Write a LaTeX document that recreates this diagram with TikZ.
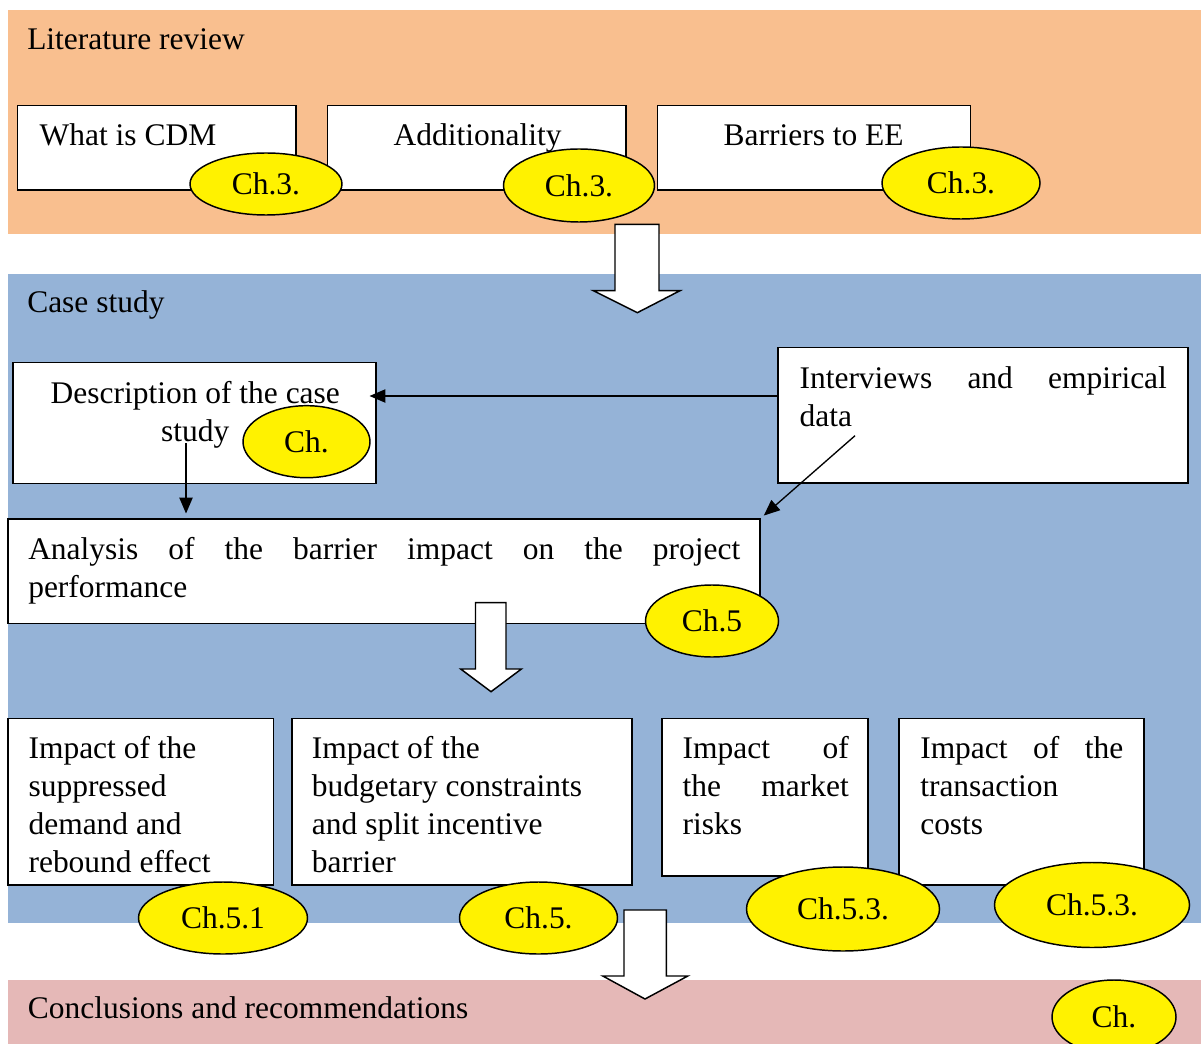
\documentclass[tikz,border=0pt]{standalone}
\usepackage{fontspec}
\setmainfont{Liberation Serif}
\usetikzlibrary{shapes.geometric,arrows.meta,fit}
\definecolor{litorange}{HTML}{F9BF8F}
\definecolor{caseblue}{HTML}{95B3D7}
\definecolor{conclpink}{HTML}{E5B8B7}
\newcommand\myfs{\fontsize{23.6pt}{28.5pt}\selectfont}
\tikzset{
  band/.style={inner sep=0pt, draw=none},
  box/.style={draw=black, line width=1.2pt, fill=white, inner sep=0pt},
  ch/.style={ellipse, draw=black, line width=1.1pt, fill=yellow, inner sep=0pt, font=\myfs},
  txt/.style={anchor=base west, inner sep=0pt, font=\myfs},
  arr/.style={-{Triangle[length=12pt,width=10pt]}, line width=1pt},
  blockarrow/.style={draw=black, line width=1.1pt, fill=white, line join=miter}
}
\begin{document}
\begin{tikzpicture}[x=0.75pt,y=-0.75pt]
\useasboundingbox (0,0) rectangle (1201,1044);
% bands
\node[band, fill=litorange, fit={(8,10)(1201,234.3)}] (lit) {};
\node[band, fill=caseblue, fit={(8,274)(1201,922.5)}] (case) {};
\node[band, fill=conclpink, fit={(8,980)(1201,1044)}] (concl) {};
\node[txt] (littxt) at (27,50) {Literature review};
\node[txt] (casetxt) at (27,313) {Case study};
\node[txt] (concltxt) at (27.6,1018) {Conclusions and recommendations};
% literature boxes
\node[box, fit={(17.5,105.7)(296,190)}] (cdm) {};
\node[box, fit={(327.6,105.7)(626,190)}] (add) {};
\node[box, fit={(657.5,105.7)(970.6,190)}] (bar) {};
\node[txt] (cdmtxt) at (39.4,145.7) {What is CDM};
\node[txt] (addtxt) at (393.4,145.7) {Additionality};
\node[txt] (bartxt) at (723.4,145.7) {Barriers to EE};
\node[ch, minimum width=152*0.75pt, minimum height=62*0.75pt] (ch1) at (266,184) {Ch.3.};
\node[ch, minimum width=151*0.75pt, minimum height=73*0.75pt] (ch2) at (579,185.5) {Ch.3.};
\node[ch, minimum width=158*0.75pt, minimum height=72*0.75pt] (ch3) at (961,183) {Ch.3.};
% block arrow 1
\draw[blockarrow] (615,224.3) -- (659,224.3) -- (659,290.7) -- (680,290.7) -- (637.3,312.7) -- (593.3,290.7) -- (615,290.7) -- cycle;
% case study boxes
\node[box, fit={(12.8,362.7)(376,483.3)}] (desc) {};
\node[box, fit={(777.7,347.7)(1187.7,482.7)}] (intv) {};
\node[box, fit={(7.7,519)(760,623.3)}] (ana) {};
\node[txt] (desctxt) at (45,403.3) {\parbox[t]{225pt}{\centering Description of the case\\study}};
\node[txt] (intvtxt) at (799.3,388.3) {\parbox[t]{275.5pt}{\makebox[\linewidth][s]{Interviews and empirical}\\data}};
\node[txt] (anatxt) at (28,559) {\parbox[t]{534pt}{\makebox[\linewidth][s]{Analysis of the barrier impact on the project}\\performance}};
\node[ch, minimum width=127*0.75pt, minimum height=72*0.75pt] (ch4) at (306.5,441.7) {Ch.};
\node[ch, minimum width=133*0.75pt, minimum height=72*0.75pt] (ch5) at (712,621) {Ch.5};
% connectors
\coordinate (h1) at (777.7,396);
\draw[arr, shorten >=-5.5pt] (h1) -- (h1 -| desc.east);
\coordinate (v1) at (186,443);
\draw[arr, shorten >=3.5pt] (v1) -- (v1 |- ana.north);
\coordinate (d1) at (855,435.7);
\draw[arr, shorten >=3pt] (d1) -- (ana.north east);
% block arrow 2
\draw[blockarrow] (475.5,602.7) -- (506,602.7) -- (506,669) -- (521.4,669) -- (491,691.7) -- (460.7,669) -- (475.5,669) -- cycle;
% impact boxes
\node[box, fit={(7.7,718.3)(273.4,885)}] (impA) {};
\node[box, fit={(291.8,718.3)(632,885)}] (impB) {};
\node[box, fit={(661.8,718.3)(867.8,876)}] (impC) {};
\node[box, fit={(899,718.3)(1144,885)}] (impD) {};
\node[txt] (impAtxt) at (28.3,758.3) {\parbox[t]{190pt}{Impact of the\\suppressed\\demand and\\rebound effect}};
\node[txt] (impBtxt) at (311.7,758.3) {\parbox[t]{240pt}{Impact of the\\budgetary constraints\\and split incentive\\barrier}};
\node[txt] (impCtxt) at (682.4,758.3) {\parbox[t]{124.6pt}{\makebox[\linewidth][s]{Impact of}\\\makebox[\linewidth][s]{the market}\\risks}};
\node[txt] (impDtxt) at (920,758.3) {\parbox[t]{152.2pt}{\makebox[\linewidth][s]{Impact of the}\\transaction\\costs}};
\node[ch, minimum width=169*0.75pt, minimum height=72*0.75pt] (ch6) at (223,918) {Ch.5.1};
\node[ch, minimum width=158*0.75pt, minimum height=72*0.75pt] (ch7) at (538.5,918) {Ch.5.};
\node[ch, minimum width=193*0.75pt, minimum height=84*0.75pt] (ch8) at (843,909) {Ch.5.3.};
\node[ch, minimum width=195*0.75pt, minimum height=85*0.75pt] (ch9) at (1092,905) {Ch.5.3.};
% block arrow 3
\draw[blockarrow] (624,910) -- (666.4,910) -- (666.4,976) -- (687.8,976) -- (645,999) -- (602.8,976) -- (624,976) -- cycle;
\node[ch, minimum width=124*0.75pt, minimum height=74*0.75pt] (ch10) at (1114,1017) {Ch.};
\end{tikzpicture}
\end{document}
